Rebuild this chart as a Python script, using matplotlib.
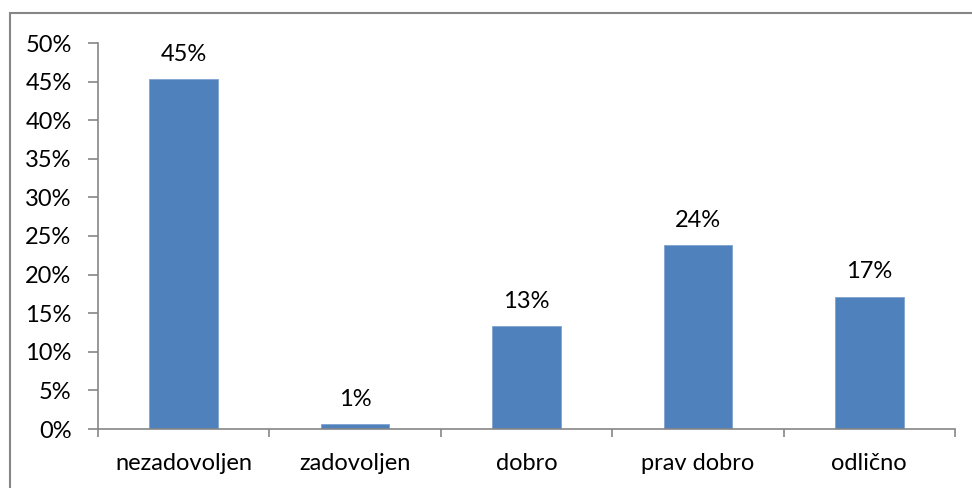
import matplotlib
matplotlib.use("Agg")
import matplotlib.pyplot as plt
from matplotlib.patches import Rectangle
from matplotlib.ticker import FuncFormatter

categories = ["nezadovoljen", "zadovoljen", "dobro", "prav dobro", "odlično"]
shares = [45.3, 0.6, 13.3, 23.8, 17.1]
y_ticks = [0, 5, 10, 15, 20, 25, 30, 35, 40, 45, 50]

plt.rcParams["font.family"] = ["Lato", "DejaVu Sans"]

W, H = 972, 488
fig = plt.figure(figsize=(W / 100, H / 100), dpi=100)
ax = fig.add_axes([98 / W, 1 - 429 / H, (955 - 98) / W, (429 - 43) / H])

axis_grey = "#868686"
bar_blue = "#4F81BD"
fs = 17

x = list(range(len(categories)))
ax.bar(x, shares, width=0.4, color=bar_blue, edgecolor="#7FA3CF", linewidth=0.6)

for xi, v in zip(x, shares):
    ax.annotate(f"{int(v + 0.5)}%", xy=(xi, v), xytext=(0, 13.5), textcoords="offset points",
                ha="center", va="baseline", fontsize=fs, color="black")

ax.set_xlim(-0.5, len(categories) - 0.5)
ax.set_ylim(0, 50)
ax.set_yticks(y_ticks)
ax.yaxis.set_major_formatter(FuncFormatter(lambda v, _: f"{int(v)}%"))

# category boundaries carry the x tick marks; labels sit at centers
ax.set_xticks([i - 0.5 for i in range(len(categories) + 1)])
ax.set_xticklabels([])
ax.set_xticks(x, minor=True)
ax.set_xticklabels(categories, minor=True)
ax.tick_params(axis="x", which="minor", length=0, pad=17, labelsize=fs)
ax.tick_params(axis="x", which="major", length=6, width=1.2, color=axis_grey, direction="out")
ax.tick_params(axis="y", length=7, width=1.2, color=axis_grey, pad=12, labelsize=fs)

for side in ("top", "right"):
    ax.spines[side].set_visible(False)
for side in ("left", "bottom"):
    ax.spines[side].set_color(axis_grey)
    ax.spines[side].set_linewidth(1.2)

# outer chart-area border
fig.patches.append(Rectangle((9.5 / W, -0.1), 1.2, 1 - 13 / H + 0.1, transform=fig.transFigure,
                             fill=False, edgecolor=axis_grey, linewidth=1.5))

fig.savefig("out.png", dpi=100)
